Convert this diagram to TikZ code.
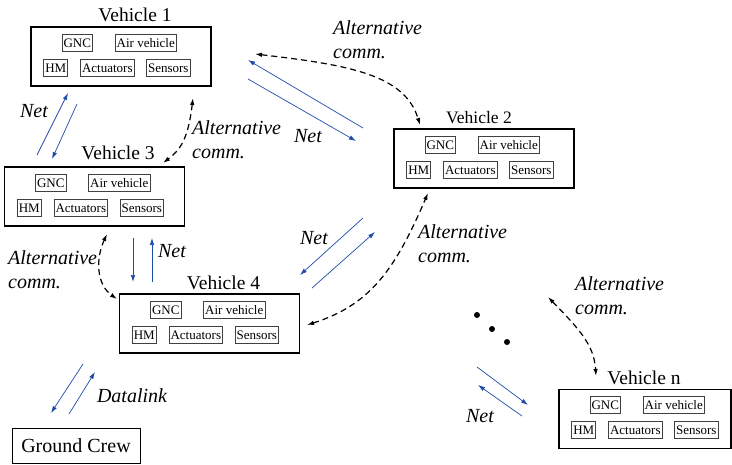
\documentclass[tikz,border=0pt]{standalone}
\usepackage{fontspec}
\setmainfont{LiberationSerif}[Extension=.ttf,UprightFont=*-Regular,ItalicFont=*-Italic,BoldFont=*-Bold,BoldItalicFont=*-BoldItalic]
\usetikzlibrary{calc,positioning,arrows.meta}
\definecolor{netblue}{RGB}{30,75,170}
\newcommand{\vehparts}[1]{%
\node [part] (#1gnc) at ($(#1.north west)+(47,16.5)$) {GNC};
\node [part] (#1air) at ($(#1.north west)+(115.5,16.5)$) {Air vehicle};
\node [part] (#1hm) at ($(#1.north west)+(25.5,41.5)$) {HM};
\node [part] (#1act) at ($(#1.north west)+(77,41.5)$) {Actuators};
\node [part] (#1sen) at ($(#1.north west)+(138,41.5)$) {Sensors};}

\begin{document}
\begin{tikzpicture}[x=1pt,y=-1pt,>={Latex[length=7pt,width=4.5pt]},
  vehicle/.style={draw,line width=1.4pt,minimum width=180pt,minimum height=59pt,inner sep=0pt},
  part/.style={draw=black!75,line width=0.7pt,inner xsep=1.5pt,inner ysep=0pt,minimum height=17pt,font=\fontsize{13}{13}\selectfont},
  title/.style={anchor=base,inner sep=0pt,font=\fontsize{19.5}{20}\selectfont},
  lbl/.style={inner sep=0pt,font=\fontsize{20}{24}\selectfont\itshape},
  alt/.style={lbl,anchor=north west,align=left},
  net/.style={->,draw=netblue,line width=0.7pt},
  altcomm/.style={<->,line width=1.2pt,dash pattern=on 6pt off 4pt},
  dot/.style={circle,fill,inner sep=0pt,minimum size=6pt}]
\useasboundingbox (0,0) rectangle (732,464);

\node [vehicle] (v1) at (121,56.5) {};
\node [title] (v1title) at ($(v1.north)+(14,-5)$) {Vehicle 1};
\vehparts{v1}
\node [vehicle] (v2) at (484,158.5) {};
\node [title,font=\fontsize{17.5}{18}\selectfont] (v2title) at ($(v2.north)+(-5,-5)$) {Vehicle 2};
\vehparts{v2}
\node [vehicle] (v3) at (94.5,196.5) {};
\node [title] (v3title) at ($(v3.north)+(23.5,-7)$) {Vehicle 3};
\vehparts{v3}
\node [vehicle] (v4) at (209.5,323.5) {};
\node [title] (v4title) at ($(v4.north)+(14,-4)$) {Vehicle 4};
\vehparts{v4}
\node [vehicle,minimum width=172pt] (vn) at (645,419) {};
\node [title] (vntitle) at ($(vn.north)+(-1,-4)$) {Vehicle n};
\vehparts{vn}
\node [draw,line width=0.6pt,minimum width=128pt,minimum height=35pt,font=\fontsize{20}{20}\selectfont] (ground) at (76,445.5) {Ground Crew};

\coordinate (n13a) at (37,155); \coordinate (n13b) at (68,93);
\coordinate (n31a) at (77,104); \coordinate (n31b) at (52,159);
\draw [net] (n13a) -- (n13b);
\draw [net] (n31a) -- (n31b);
\node [lbl] (net13) at (34,111) {Net};

\coordinate (n21a) at (363,128); \coordinate (n21b) at (248,60);
\coordinate (n12a) at (248,79); \coordinate (n12b) at (356,141);
\draw [net] (n21a) -- (n21b);
\draw [net] (n12a) -- (n12b);
\node [lbl] (net12) at (308,136) {Net};

\coordinate (n34a) at (133,238); \coordinate (n34b) at (133,282);
\coordinate (n43a) at (152,282); \coordinate (n43b) at (152,238);
\draw [net] (n34a) -- (n34b);
\draw [net] (n43a) -- (n43b);
\node [lbl] (net34) at (172,251) {Net};

\coordinate (n24a) at (363,218); \coordinate (n24b) at (300,275);
\coordinate (n42a) at (312,288); \coordinate (n42b) at (375,232);
\draw [net] (n24a) -- (n24b);
\draw [net] (n42a) -- (n42b);
\node [lbl] (net42) at (314,238) {Net};

\coordinate (nna) at (477,367); \coordinate (nnb) at (528,405);
\coordinate (nnc) at (522,416); \coordinate (nnd) at (478,385);
\draw [net] (nna) -- (nnb);
\draw [net] (nnc) -- (nnd);
\node [lbl] (netn) at (480,416) {Net};

\coordinate (dla) at (83,364); \coordinate (dlb) at (51,413);
\coordinate (dlc) at (69,414); \coordinate (dld) at (95,372);
\draw [net] (dla) -- (dlb);
\draw [net] (dlc) -- (dld);
\node [lbl] (datalink) at (132,396) {Datalink};

\coordinate (a12a) at (255,54); \coordinate (a12b) at (420,125);
\draw [altcomm] (a12a) .. controls (350,65) and (405,75) .. (a12b);
\node [alt] (alt12) at (333,20) {Alternative\\comm.};

\coordinate (a13a) at (193,98); \coordinate (a13b) at (163,163);
\draw [altcomm] (a13a) .. controls (188,140) and (180,150) .. (a13b);
\node [alt] (alt13) at (192,120.5) {Alternative\\comm.};

\coordinate (a34a) at (107,234); \coordinate (a34b) at (117,299);
\draw [altcomm] (a34a) .. controls (95,260) and (97,285) .. (a34b);
\node [alt] (alt34) at (8,250) {Alternative\\comm.};

\coordinate (a42a) at (307,325); \coordinate (a42b) at (428,193);
\draw [altcomm] (a42a) .. controls (370,305) and (395,270) .. (a42b);
\node [alt] (alt42) at (418,224) {Alternative\\comm.};

\coordinate (a2na) at (548,297); \coordinate (a2nb) at (596,376);
\draw [altcomm] (a2na) .. controls (580,330) and (594,345) .. (a2nb);
\node [alt] (alt2n) at (575,276) {Alternative\\comm.};

\node [dot] (dot1) at (477,315) {};
\node [dot] (dot2) at (492,329) {};
\node [dot] (dot3) at (507,342) {};
\end{tikzpicture}
\end{document}
